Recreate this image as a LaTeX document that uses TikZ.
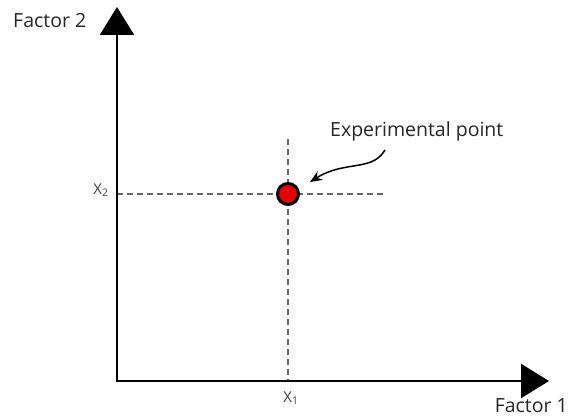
\documentclass[tikz,border=0pt]{standalone}
\usepackage{fontspec}
\setmainfont{Open Sans}
\usetikzlibrary{arrows.meta}
\begin{document}
\begin{tikzpicture}[x=1pt,y=-1pt,
  axis/.style={line width=2.2pt,-{Triangle[length=28pt,width=34pt]}},
  guide/.style={draw=black!60,line width=1.2pt,dash pattern=on 6pt off 4pt},
  lbl/.style={font=\fontsize{19.5}{21}\selectfont,text=black!85,inner sep=0pt},
  sub/.style={font=\fontsize{15}{17}\selectfont,text=black!75,inner sep=0pt}]
\useasboundingbox (0,0) rectangle (570,419);
\coordinate (O) at (117,381);
\coordinate (ytip) at (117,7);
\coordinate (xtip) at (549,381);
\coordinate (vtop) at (288,139);
\coordinate (vbot) at (288,381);
\coordinate (hleft) at (117,194);
\coordinate (hright) at (384,194);
\draw[guide] (vtop) -- (vbot);
\draw[guide] (hleft) -- (hright);
\draw[axis] (O) -- (ytip);
\draw[axis] ([xshift=-1.1pt]O) -- (xtip);
\node[circle,draw=black,line width=3pt,fill=red!90!black,minimum size=21pt,inner sep=0pt] (pt) at (288,194) {};
\node[lbl,anchor=west] (f2) at (13,21) {Factor 2};
\node[lbl,anchor=east] (f1) at (568,406) {Factor 1};
\node[lbl,anchor=west] (ep) at (330,131) {Experimental point};
\node[sub] (x2) at (101,190) {X\textsubscript{2}};
\node[sub] (x1) at (291,398) {X\textsubscript{1}};
\coordinate (cs) at (385,150);
\coordinate (ce) at (310,182);
\draw[line width=1.5pt,-{Stealth[length=12pt,width=10pt]}] (cs) .. controls (372,172) and (345,160) .. (ce);
\end{tikzpicture}
\end{document}
